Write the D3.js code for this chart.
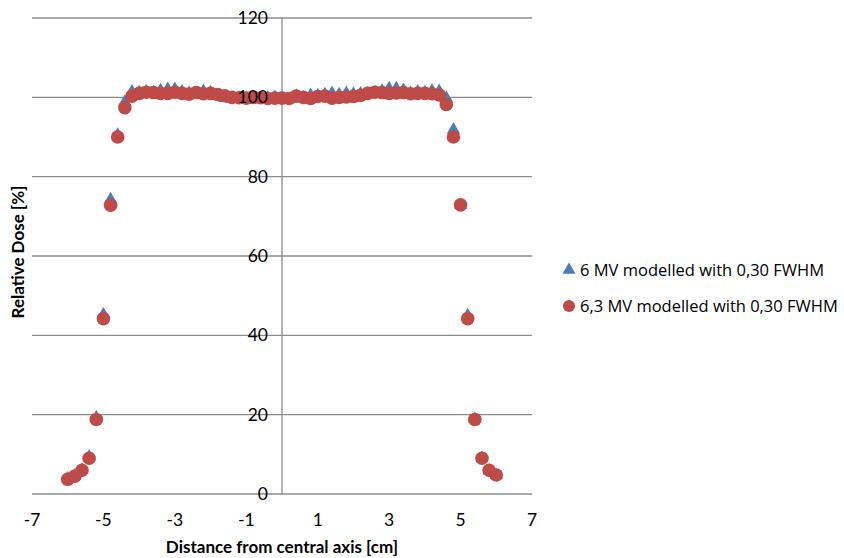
<!DOCTYPE html>
<html lang="en">
<head>
<meta charset="UTF-8" />
<title>Relative dose profile</title>
<script src="https://d3js.org/d3.v7.min.js"></script>
<style>
  body { margin: 0; background: #fff; }
  text { font-family: "Open Sans", sans-serif; fill: #000; }
</style>
</head>
<body>
<svg id="chart" width="844" height="558"></svg>
<script>
// distance from central axis [cm]
const positions = [-6.0,-5.8,-5.6,-5.4,-5.2,-5.0,-4.8,-4.6,-4.4,-4.2,-4.0,-3.8,-3.6,-3.4,-3.2,-3.0,-2.8,-2.6,-2.4,-2.2,-2.0,-1.8,-1.6,-1.4,-1.2,-1.0,-0.8,-0.6,-0.4,-0.2,0.0,0.2,0.4,0.6,0.8,1.0,1.2,1.4,1.6,1.8,2.0,2.2,2.4,2.6,2.8,3.0,3.2,3.4,3.6,3.8,4.0,4.2,4.4,4.6,4.8,5.0,5.2,5.4,5.6,5.8,6.0];

// 6 MV modelled with 0,30 FWHM
const dose6MV = [3.6,4.4,5.8,9.2,19.0,45.0,74.0,90.3,98.6,101.2,101.0,101.2,101.0,101.5,101.8,101.8,101.2,100.8,100.6,101.3,101.0,100.2,99.5,99.3,99.6,99.0,99.2,99.3,99.6,99.8,99.5,99.3,100.1,99.7,100.3,100.2,100.5,100.8,100.5,100.8,100.6,100.7,100.7,101.0,101.4,102.0,102.0,101.6,100.8,101.2,101.0,101.4,101.3,99.6,91.6,72.6,44.8,18.6,8.8,5.6,4.4];

// 6,3 MV modelled with 0,30 FWHM
const dose63MV = [3.7,4.5,6.0,9.0,18.8,44.2,72.8,90.0,97.4,100.3,101.0,101.3,101.2,101.0,101.0,101.3,101.0,100.8,101.2,100.9,101.0,100.7,100.4,100.0,99.9,99.8,100.0,99.9,99.7,99.8,99.8,99.7,100.3,100.0,99.7,100.2,100.3,99.8,100.0,100.1,100.2,100.5,101.0,101.3,101.2,101.0,101.1,101.2,100.9,101.0,101.0,100.9,100.6,98.2,90.0,72.9,44.2,18.8,9.0,6.0,4.8];

const xTicks = [-7,-5,-3,-1,1,3,5,7];
const yTicks = [0,20,40,60,80,100,120];
const seriesNames = ["6 MV modelled with 0,30 FWHM", "6,3 MV modelled with 0,30 FWHM"];

const svg = d3.select('#chart');
const x = d3.scaleLinear().domain([-7, 7]).range([32, 532]);
const y = d3.scaleLinear().domain([0, 120]).range([494, 18]);

// horizontal gridlines
svg.append('g').selectAll('line').data(yTicks).join('line')
  .attr('x1', x(-7)).attr('x2', x(7))
  .attr('y1', d => y(d)).attr('y2', d => y(d))
  .attr('stroke', '#8c8c8c').attr('stroke-width', 1.3);

// vertical axis line at x = 0
svg.append('line')
  .attr('x1', x(0)).attr('x2', x(0))
  .attr('y1', y(120)).attr('y2', y(0))
  .attr('stroke', '#8c8c8c').attr('stroke-width', 1.3);

const tri = d3.symbol().type(d3.symbolTriangle).size(75);

// 6 MV: blue triangles
svg.append('g').selectAll('path').data(positions).join('path')
  .attr('d', tri)
  .attr('transform', (d, i) => `translate(${x(d)},${y(dose6MV[i]) - 1})`)
  .attr('fill', '#4a7ebb');

// 6,3 MV: red circles
svg.append('g').selectAll('circle').data(positions).join('circle')
  .attr('cx', d => x(d)).attr('cy', (d, i) => y(dose63MV[i]))
  .attr('r', 6.8)
  .attr('fill', '#be4b48');

// y tick labels next to the central axis (drawn over the markers)
svg.append('g').selectAll('text').data(yTicks).join('text')
  .attr('x', x(0) - 14).attr('y', d => y(d) + 6)
  .attr('text-anchor', 'end')
  .style('font-size', '17.5px').style('font-family', 'Lato, sans-serif')
  .text(d => d);

// x tick labels below
svg.append('g').selectAll('text').data(xTicks).join('text')
  .attr('x', d => x(d)).attr('y', 526)
  .attr('text-anchor', 'middle')
  .style('font-size', '17.5px').style('font-family', 'Lato, sans-serif')
  .text(d => d);

// axis titles
svg.append('text')
  .attr('x', x(0)).attr('y', 553)
  .attr('text-anchor', 'middle')
  .style('font-size', '17px').style('font-weight', 'bold').style('font-family', 'Lato, sans-serif')
  .text('Distance from central axis [cm]');

svg.append('text')
  .attr('transform', 'translate(24,252) rotate(-90)')
  .attr('text-anchor', 'middle')
  .style('font-size', '17px').style('font-weight', 'bold').style('font-family', 'Lato, sans-serif')
  .text('Relative Dose [%]');

// legend
const legend = svg.append('g');
legend.append('path').attr('d', tri).attr('transform', 'translate(569,270)').attr('fill', '#4a7ebb');
legend.append('circle').attr('cx', 569).attr('cy', 306).attr('r', 6).attr('fill', '#be4b48');
legend.selectAll('text').data(seriesNames).join('text')
  .attr('x', 580).attr('y', (d, i) => 276 + i * 36)
  .style('font-size', '16.5px')
  .text(d => d);
</script>
</body>
</html>
